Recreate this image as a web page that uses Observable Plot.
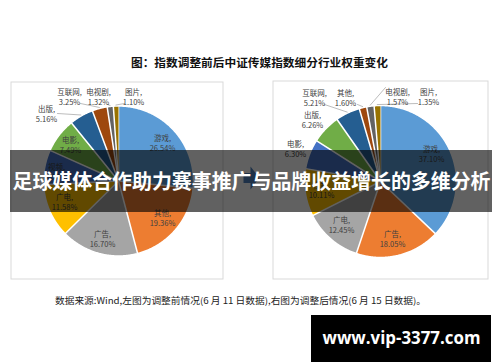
<!DOCTYPE html>
<html><head><meta charset="utf-8">
<script src="https://cdn.jsdelivr.net/npm/d3@7"></script>
<script src="https://cdn.jsdelivr.net/npm/@observablehq/plot@0.6"></script>
<style>body{margin:0;background:#fff}#chart{width:500px;height:362px;overflow:hidden}</style>
</head><body><div id="chart"></div>
<script>
// ---- data ----
const categoriesBefore = ["游戏","其他","广告","广电","视频","电影","出版","互联网","电视剧","图片"];
const valuesBefore = [26.54,19.36,16.70,11.58,7.50,7.49,5.16,3.25,1.32,1.10];
const categoriesAfter = ["游戏","广告","广电","视频","电影","出版","互联网","其他","电视剧","图片"];
const valuesAfter = [37.10,18.05,12.45,10.11,6.30,6.26,5.21,1.60,1.57,1.35];
const palette = ["#5B9BD5","#ED7D31","#A5A5A5","#FFC000","#4472C4","#70AD47","#255E91","#9E480E","#636363","#997300"];
const titleText = "图：指数调整前后中证传媒指数细分行业权重变化";
const bannerText = "足球媒体合作助力赛事推广与品牌收益增长的多维分析";
const sourceText = "数据来源:Wind,左图为调整前情况(6 月 11 日数据),右图为调整后情况(6 月 15 日数据)。";
const watermarkText = "www.vip-3377.com";

// ---- layout (positions only) ----
const layout = {
  pies: [
    {cx:118, cy:180.5, r:75, frame:[11,82,223,279],
     labels:[[162,142],[162,217.5],[102,238.5],[64,201],[56,171],[70,144.5],[46,113],[69,96],[98,96],[133,96]],
     leaders:[null,null,null,null,null,null,[57,113],[80,103],[107,104],[124,103]]},
    {cx:380, cy:181, r:76, frame:[273,81,488,279],
     labels:[[431,153],[392,238.5],[341,224],[321,189],[295,148],[312,119.5],[314,97.5],[345,97.5],[397,96],[428,96]],
     leaders:[null,null,null,null,null,null,[324,104],[357,104],[385,87],[417,103]]}
  ],
  band:[10,150,492,212], bannerY:182, titleXY:[259,63], sourceXY:[240,301],
  wmBox:[311,315,491,362], wmXY:[401,338],
  fit: {} // text widths set below
};
layout.fit[bannerText] = 478;
layout.fit[watermarkText] = 158;
layout.fit[sourceText] = 371;
layout.fit[titleText] = 257;

const series = [[categoriesBefore, valuesBefore],[categoriesAfter, valuesAfter]];
const slices = [], labelRows = [], leaderRows = [];
series.forEach(([cats, vals], p) => {
  const L = layout.pies[p];
  const arcs = d3.pie().sort(null).value(d => d)(vals);
  arcs.forEach((a, i) => {
    const key = p + "-" + i;
    slices.push({key, idx:i, x:L.cx, y:L.cy});
    const n = Math.max(2, Math.ceil((a.endAngle - a.startAngle) / 0.01));
    for (let k = 0; k <= n; k++) {
      const t = a.startAngle + (a.endAngle - a.startAngle) * k / n;
      slices.push({key, idx:i, x:L.cx + L.r*Math.sin(t), y:L.cy - L.r*Math.cos(t)});
    }
    const [lx, ly] = L.labels[i];
    labelRows.push({x:lx, y:ly, text: cats[i] + ",\n" + vals[i].toFixed(2) + "%"});
    const ld = L.leaders[i];
    if (ld) {
      const m = (a.startAngle + a.endAngle)/2;
      leaderRows.push({key, x:ld[0], y:ld[1]});
      leaderRows.push({key, x:L.cx + (L.r+1)*Math.sin(m), y:L.cy - (L.r+1)*Math.cos(m)});
    }
  });
});
const frames = layout.pies.map(L => ({x1:L.frame[0], y1:L.frame[1], x2:L.frame[2], y2:L.frame[3]}));
const arrow = [[243,172.5],[250,172.5],[250,166],[259,177.5],[250,189],[250,182.5],[243,182.5]].map(([x,y])=>({x,y}));
const B = layout.band, W = layout.wmBox;
const font = "'Noto Sans CJK SC', sans-serif";

const chart = Plot.plot({
  width:500, height:362, margin:0,
  x:{domain:[0,500], range:[0,500], axis:null},
  y:{domain:[0,362], range:[0,362], axis:null},
  color:{type:"ordinal", domain:d3.range(10), range:palette},
  style:{background:"#fff"},
  marks:[
    Plot.rect(frames, {x1:"x1", y1:"y1", x2:"x2", y2:"y2", fill:"none", stroke:"#d9d9d9", strokeWidth:1}),
    Plot.line(slices, {x:"x", y:"y", z:"key", fill:"idx", stroke:"#fff", strokeWidth:1.5, strokeLinejoin:"round"}),
    Plot.line(leaderRows, {x:"x", y:"y", z:"key", stroke:"#a6a6a6", strokeWidth:0.75}),
    Plot.text(labelRows, {x:"x", y:"y", text:"text", fontSize:7.5, lineHeight:1.33, fill:"#404040", fontFamily:font}),
    Plot.text([titleText], {x:layout.titleXY[0], y:layout.titleXY[1], text:d=>d, fontSize:11.2, fontWeight:"bold", fill:"#111", fontFamily:font}),
    Plot.text([sourceText], {x:layout.sourceXY[0], y:layout.sourceXY[1], text:d=>d, fontSize:9, fill:"#222", fontFamily:font}),
    Plot.line(arrow, {x:"x", y:"y", fill:"#4F81BD", stroke:"none"}),
    Plot.rect([0], {x1:B[0], y1:B[1], x2:B[2], y2:B[3], fill:"#000", fillOpacity:0.62}),
    Plot.text([bannerText], {x:(B[0]+B[2])/2, y:layout.bannerY, text:d=>d, fontSize:20, fontWeight:"bold", fill:"#fff", fontFamily:font}),
    Plot.rect([0], {x1:W[0], y1:W[1], x2:W[2], y2:W[3], fill:"#000"}),
    Plot.text([watermarkText], {x:layout.wmXY[0], y:layout.wmXY[1], text:d=>d, fontSize:17, fontWeight:"bold", fill:"#fff", fontFamily:"'Open Sans', sans-serif"})
  ]
});
d3.select(chart).selectAll("text").each(function() {
  const w = layout.fit[this.textContent];
  if (w) { this.setAttribute("textLength", w); this.setAttribute("lengthAdjust", "spacingAndGlyphs"); }
});
document.getElementById("chart").appendChild(chart);
</script></body></html>
